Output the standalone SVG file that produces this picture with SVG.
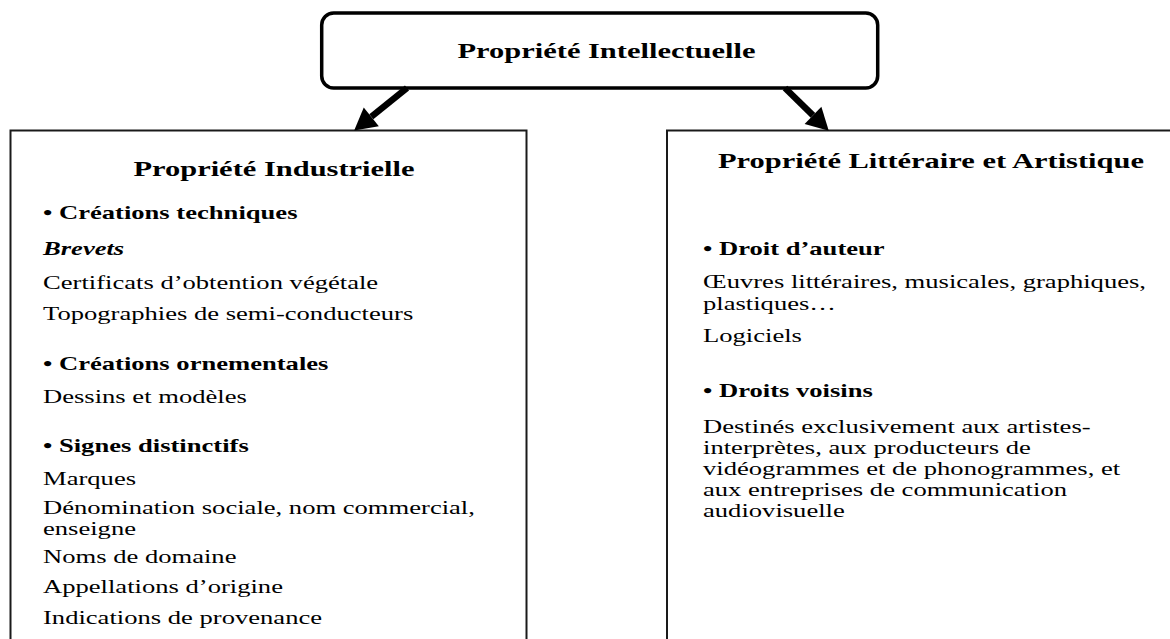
<svg xmlns="http://www.w3.org/2000/svg" width="1170" height="639" viewBox="0 0 1170 639">
<style>
  text { font-family: "Liberation Serif", "Times New Roman", serif; fill: #000; }
  .title { font-size: 22px; font-weight: bold; text-anchor: middle; }
  .head { font-size: 19.2px; font-weight: bold; }
  .body { font-size: 19.2px; }
  .em { font-size: 19.2px; font-weight: bold; font-style: italic; }
  .box { fill: #fff; stroke: #1a1a1a; stroke-width: 2; }
  .root { fill: #fff; stroke: #000; stroke-width: 3.5; }
  .conn { stroke: #000; stroke-width: 6.5; fill: none; marker-end: url(#head); }
</style>
<defs>
  <marker id="head" markerUnits="userSpaceOnUse" markerWidth="24" markerHeight="26" refX="0" refY="12" orient="auto" overflow="visible">
    <path d="M0,0 L22,12 L0,24 z" fill="#000"/>
  </marker>
</defs>
<rect width="1170" height="639" fill="#fff"/>

<g id="node-industrielle">
  <rect class="box" x="10.5" y="130.5" width="516" height="530"/>
  <g transform="scale(1.385,1)">
    <text class="title" x="197.8" y="176">Propriété Industrielle</text>
    <text class="head" x="31.05" y="219">• Créations techniques</text>
    <text class="em" x="31.05" y="255">Brevets</text>
    <text class="body" x="31.05" y="289">Certificats d’obtention végétale</text>
    <text class="body" x="31.05" y="320">Topographies de semi-conducteurs</text>
    <text class="head" x="31.05" y="370">• Créations ornementales</text>
    <text class="body" x="31.05" y="403">Dessins et modèles</text>
    <text class="head" x="31.05" y="452">• Signes distinctifs</text>
    <text class="body" x="31.05" y="485">Marques</text>
    <text class="body" x="31.05" y="514">Dénomination sociale, nom commercial,</text>
    <text class="body" x="31.05" y="535">enseigne</text>
    <text class="body" x="31.05" y="563">Noms de domaine</text>
    <text class="body" x="31.05" y="593">Appellations d’origine</text>
    <text class="body" x="31.05" y="624">Indications de provenance</text>
  </g>
</g>

<g id="node-litteraire">
  <rect class="box" x="667" y="130.5" width="520" height="530"/>
  <g transform="scale(1.385,1)">
    <text class="title" x="672.2" y="168">Propriété Littéraire et Artistique</text>
    <text class="head" x="507.6" y="255">• Droit d’auteur</text>
    <text class="body" x="507.6" y="288">Œuvres littéraires, musicales, graphiques,</text>
    <text class="body" x="507.6" y="310">plastiques…</text>
    <text class="body" x="507.6" y="342">Logiciels</text>
    <text class="head" x="507.6" y="397">• Droits voisins</text>
    <text class="body" x="507.6" y="433">Destinés exclusivement aux artistes-</text>
    <text class="body" x="507.6" y="454">interprètes, aux producteurs de</text>
    <text class="body" x="507.6" y="475">vidéogrammes et de phonogrammes, et</text>
    <text class="body" x="507.6" y="496">aux entreprises de communication</text>
    <text class="body" x="507.6" y="517">audiovisuelle</text>
  </g>
</g>

<g id="node-intellectuelle">
  <rect class="root" x="321.7" y="13" width="556" height="75" rx="12" ry="12"/>
  <g transform="scale(1.385,1)">
    <text class="title" x="437.9" y="58">Propriété Intellectuelle</text>
  </g>
</g>

<g id="connectors">
  <line class="conn" x1="407" y1="88" x2="371.3" y2="116.8"/>
  <line class="conn" x1="785" y1="88" x2="813" y2="115.3"/>
</g>
</svg>
